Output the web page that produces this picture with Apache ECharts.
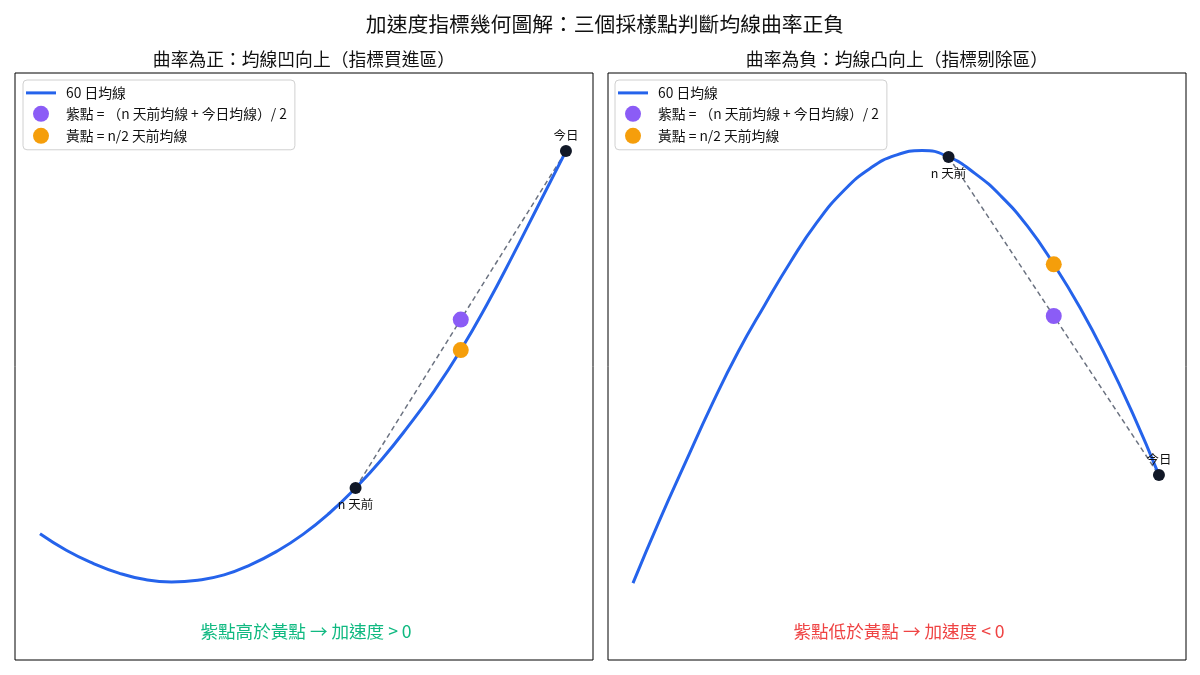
<!DOCTYPE html>
<html>
<head>
<meta charset="utf-8">
<script src="https://cdn.jsdelivr.net/npm/echarts@6/dist/echarts.min.js"></script>
<style>
html,body{margin:0;padding:0;background:#fff;}
#chart{width:1200px;height:675px;}
</style>
</head>
<body>
<div id="chart"></div>
<script>
// ---- Data ----
// x = relative time (0 = start of window, 1 = today), read every 0.05
const timeT = [0, 0.05, 0.1, 0.15, 0.2, 0.25, 0.3, 0.35, 0.4, 0.45, 0.5, 0.55, 0.6, 0.65, 0.7, 0.75, 0.8, 0.85, 0.9, 0.95, 1.0];
// Left panel (curvature positive): 60-day MA
const leftY = [21.5, 18.7, 16.5, 14.8, 13.7, 13.3, 13.6, 14.5, 16.2, 18.5, 21.4, 25.0, 29.3, 34.2, 39.8, 45.9, 52.8, 60.6, 69.1, 77.9, 86.7];
// Right panel (curvature negative): 60-day MA
const rightY = [13.1, 23.7, 33.7, 43.5, 52.5, 60.4, 67.9, 74.6, 79.9, 83.7, 86.0, 86.8, 85.7, 82.9, 79.0, 73.9, 67.4, 60.0, 51.5, 42.0, 31.5];
// Sample points: n days ago, n/2 days ago, today
const sampleT = [0.6, 0.8, 1.0];
const sampleLabels = ['n 天前', 'n/2 天前', '今日'];
const leftSampleY = [29.3, 52.8, 86.7];
const rightSampleY = [85.7, 67.4, 31.5];

const titleMain = '加速度指標幾何圖解：三個採樣點判斷均線曲率正負';
const titleLeft = '曲率為正：均線凹向上（指標買進區）';
const titleRight = '曲率為負：均線凸向上（指標剔除區）';
const noteLeft = '紫點高於黃點 → 加速度 > 0';
const noteRight = '紫點低於黃點 → 加速度 < 0';
const nameMA = '60 日均線';
const namePurple = '紫點 = （n 天前均線 + 今日均線）/ 2';
const nameOrange = '黃點 = n/2 天前均線';

const FONT = '"Noto Sans CJK TC", "Noto Sans", sans-serif';
const BLUE = '#2563eb', PURPLE = '#8b5cf6', ORANGE = '#f59e0b', DARK = '#111827', GRAY = '#6b7280';

function zip(a, b) { return a.map((v, i) => [v, b[i]]); }

function panelSeries(idx, yArr, sY) {
  const purpleY = (sY[0] + sY[2]) / 2;
  return [
    {
      type: 'line', xAxisIndex: idx, yAxisIndex: idx, silent: true,
      data: [[sampleT[0], sY[0]], [sampleT[2], sY[2]]],
      symbol: 'none', lineStyle: { color: GRAY, width: 1.5, type: [5, 3.5] }, z: 2
    },
    {
      name: nameMA, type: 'line', xAxisIndex: idx, yAxisIndex: idx,
      data: zip(timeT, yArr), smooth: 0.5, symbol: 'none',
      lineStyle: { color: BLUE, width: 3 }, itemStyle: { color: BLUE }, z: 3
    },
    {
      type: 'scatter', xAxisIndex: idx, yAxisIndex: idx, symbolSize: 12,
      itemStyle: { color: DARK, opacity: 1 }, z: 5,
      label: { show: true, formatter: '{b}', color: '#111', fontSize: 12.5, fontFamily: FONT, distance: 4 },
      data: [
        { name: sampleLabels[0], value: [sampleT[0], sY[0]], label: { position: 'bottom' } },
        { name: sampleLabels[2], value: [sampleT[2], sY[2]], label: { position: 'top' } }
      ]
    },
    {
      name: namePurple, type: 'scatter', xAxisIndex: idx, yAxisIndex: idx, symbolSize: 16,
      itemStyle: { color: PURPLE, opacity: 1 }, z: 6, data: [[sampleT[1], purpleY]]
    },
    {
      name: nameOrange, type: 'scatter', xAxisIndex: idx, yAxisIndex: idx, symbolSize: 16,
      itemStyle: { color: ORANGE, opacity: 1 }, z: 6, data: [[sampleT[1], sY[1]]]
    }
  ];
}

function legendAt(left) {
  return {
    orient: 'vertical', left: left, top: 80,
    padding: [6, 8, 6, 3], itemWidth: 30, itemHeight: 16, itemGap: 6,
    backgroundColor: 'rgba(255,255,255,0.85)',
    borderColor: '#d0d0d0', borderWidth: 1, borderRadius: 4,
    textStyle: { fontSize: 13.8, fontFamily: FONT, color: '#111', padding: [0, 0, 0, 5] },
    selectedMode: false,
    data: [
      { name: nameMA, icon: 'path://M0,0 L30,0 L30,3 L0,3 Z' },
      { name: namePurple, icon: 'circle', itemStyle: { opacity: 1 } },
      { name: nameOrange, icon: 'circle', itemStyle: { opacity: 1 } }
    ]
  };
}

const axisCommon = {
  type: 'value', axisLine: { show: false }, axisTick: { show: false },
  axisLabel: { show: false }, splitLine: { show: false }
};

const chart = echarts.init(document.getElementById('chart'), null, { renderer: 'canvas' });
chart.setOption({
  backgroundColor: '#fff',
  animation: false,
  textStyle: { fontFamily: FONT },
  title: [
    { text: titleMain, left: 600, top: 9, textAlign: 'center',
      textStyle: { fontSize: 20.8, fontWeight: 'normal', color: '#111', fontFamily: FONT } },
    { text: titleLeft, left: 299, top: 45, textAlign: 'center',
      textStyle: { fontSize: 17.8, fontWeight: 'normal', color: '#111', fontFamily: FONT } },
    { text: titleRight, left: 892, top: 45, textAlign: 'center',
      textStyle: { fontSize: 17.8, fontWeight: 'normal', color: '#111', fontFamily: FONT } },
    { text: noteLeft, left: 301, top: 618, textAlign: 'center',
      textStyle: { fontSize: 17.6, fontWeight: 'normal', color: '#10b981', fontFamily: FONT } },
    { text: noteRight, left: 894, top: 618, textAlign: 'center',
      textStyle: { fontSize: 17.6, fontWeight: 'normal', color: '#ef4444', fontFamily: FONT } }
  ],
  legend: [legendAt(23), legendAt(615)],
  grid: [
    { left: 15, top: 73, width: 578, height: 587, show: true, borderColor: '#000', borderWidth: 1, backgroundColor: 'transparent' },
    { left: 608, top: 73, width: 578, height: 587, show: true, borderColor: '#000', borderWidth: 1, backgroundColor: 'transparent' }
  ],
  xAxis: [
    Object.assign({ gridIndex: 0, min: -0.0475, max: 1.0514 }, axisCommon),
    Object.assign({ gridIndex: 1, min: -0.0475, max: 1.0514 }, axisCommon)
  ],
  yAxis: [
    Object.assign({ gridIndex: 0, min: 0, max: 100 }, axisCommon),
    Object.assign({ gridIndex: 1, min: 0, max: 100 }, axisCommon)
  ],
  series: [].concat(
    panelSeries(0, leftY, leftSampleY),
    panelSeries(1, rightY, rightSampleY)
  )
});
</script>
</body>
</html>
